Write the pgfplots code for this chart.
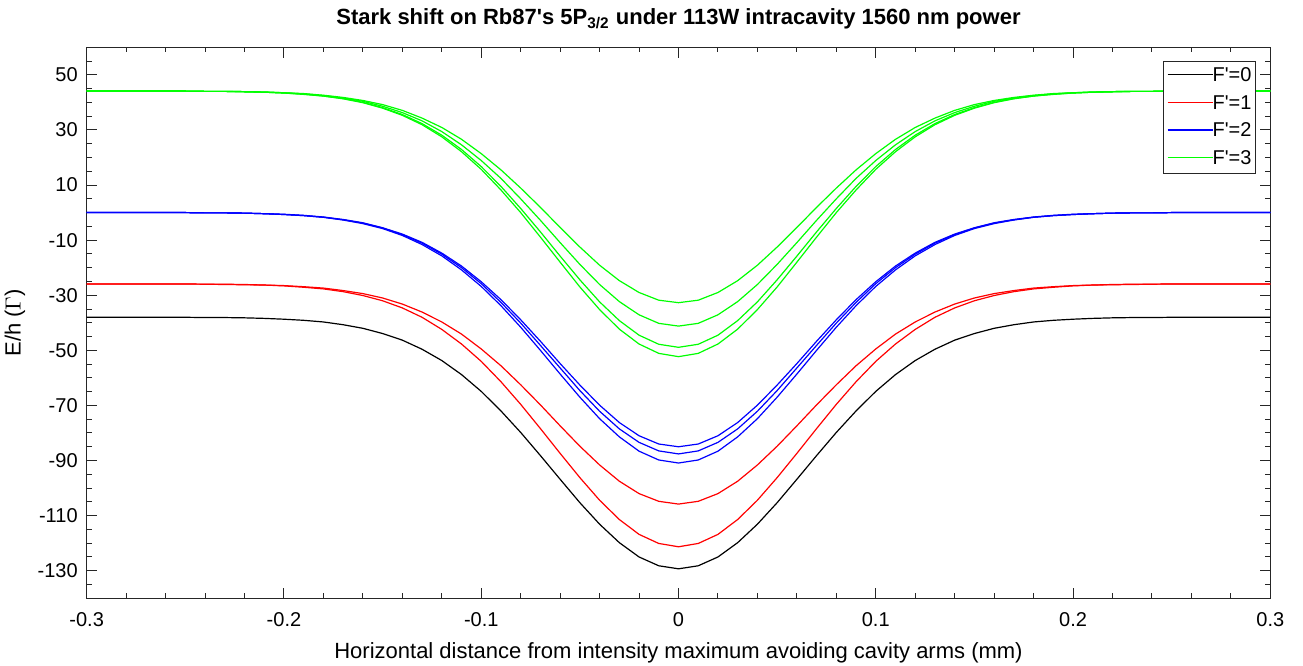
\documentclass[border=0pt]{standalone}
\usepackage{fontspec}
\setmainfont{Liberation Sans}
\usepackage{pgfplots}
\usepackage{pgfplotstable}
\pgfplotsset{compat=1.18}
\definecolor{mk}{RGB}{0,0,0}
\definecolor{mr}{RGB}{255,0,0}
\definecolor{mb}{RGB}{0,0,255}
\definecolor{mg}{RGB}{0,255,0}
\definecolor{axgray}{RGB}{38,38,38}
\newcommand{\ap}{\textquotesingle}
\newcommand{\legline}[1]{\node[anchor=west, inner sep=0pt] at (0pt,0pt) {\textcolor{#1}{\rule[-0.3pt]{22.5pt}{0.6pt}}\hspace{2.15pt}};}

\pgfplotstableread{
x      k      r1     r2     b1    b2    b3    g1    g2    g3    g4
-0.30  -38.0  -25.9  -25.9  0.0   0.0   0.0   44.1  44.1  44.1  44.1
-0.25  -38.0  -25.9  -25.9  0.0   0.0   0.0   44.1  44.1  44.1  44.1
-0.24  -38.1  -26.0  -26.0  -0.1  -0.1  -0.1  44.0  44.0  44.0  44.0
-0.23  -38.1  -26.0  -26.1  -0.1  -0.1  -0.1  44.0  44.0  44.0  44.0
-0.22  -38.2  -26.1  -26.2  -0.2  -0.2  -0.2  43.9  43.9  43.9  43.8
-0.21  -38.4  -26.3  -26.3  -0.4  -0.4  -0.4  43.8  43.7  43.7  43.7
-0.20  -38.7  -26.5  -26.6  -0.6  -0.7  -0.7  43.5  43.5  43.4  43.4
-0.19  -39.1  -26.9  -27.1  -1.0  -1.1  -1.1  43.2  43.1  43.0  42.9
-0.18  -39.7  -27.4  -27.7  -1.6  -1.7  -1.7  42.6  42.5  42.3  42.3
-0.17  -40.7  -28.3  -28.7  -2.5  -2.6  -2.7  41.8  41.6  41.4  41.3
-0.16  -42.0  -29.4  -30.1  -3.7  -3.8  -4.0  40.7  40.4  40.0  39.9
-0.15  -43.9  -31.0  -32.0  -5.5  -5.6  -5.8  39.2  38.6  38.1  37.9
-0.14  -46.3  -33.2  -34.6  -7.8  -8.0  -8.3  37.1  36.3  35.6  35.3
-0.13  -49.6  -36.1  -38.0  -10.8 -11.1 -11.6 34.3  33.3  32.3  31.9
-0.12  -53.7  -39.7  -42.4  -14.7 -15.1 -15.7 30.9  29.4  28.1  27.5
-0.11  -58.8  -44.1  -47.7  -19.4 -20.0 -20.8 26.6  24.6  22.9  22.1
-0.10  -64.9  -49.5  -54.0  -25.1 -25.8 -26.8 21.4  18.9  16.7  15.7
-0.09  -72.0  -55.6  -61.4  -31.6 -32.6 -33.8 15.5  12.4  9.5   8.2
-0.08  -79.8  -62.5  -69.6  -38.9 -40.1 -41.6 8.9   5.0   1.5   0.0
-0.07  -88.2  -69.8  -78.4  -46.7 -48.2 -50.0 1.9   -2.8  -7.0  -8.9
-0.06  -96.8  -77.4  -87.4  -54.8 -56.4 -58.6 -5.4  -10.9 -15.8 -18.0
-0.05  -105.3 -84.8  -96.2  -62.6 -64.6 -67.0 -12.5 -18.8 -24.4 -27.0
-0.04  -113.1 -91.6  -104.4 -69.9 -72.1 -74.8 -19.1 -26.1 -32.4 -35.2
-0.03  -119.8 -97.5  -111.4 -76.2 -78.5 -81.4 -24.7 -32.3 -39.2 -42.3
-0.02  -125.0 -102.0 -116.8 -81.0 -83.4 -86.6 -29.0 -37.1 -44.5 -47.7
-0.01  -128.2 -104.8 -120.1 -84.0 -86.5 -89.8 -31.8 -40.2 -47.8 -51.1
0.00   -129.3 -105.8 -121.3 -85.0 -87.6 -90.9 -32.7 -41.2 -48.9 -52.3
0.01   -128.2 -104.8 -120.1 -84.0 -86.5 -89.8 -31.8 -40.2 -47.8 -51.1
0.02   -125.0 -102.0 -116.8 -81.0 -83.4 -86.6 -29.0 -37.1 -44.5 -47.7
0.03   -119.8 -97.5  -111.4 -76.2 -78.5 -81.4 -24.7 -32.3 -39.2 -42.3
0.04   -113.1 -91.6  -104.4 -69.9 -72.1 -74.8 -19.1 -26.1 -32.4 -35.2
0.05   -105.3 -84.8  -96.2  -62.6 -64.6 -67.0 -12.5 -18.8 -24.4 -27.0
0.06   -96.8  -77.4  -87.4  -54.8 -56.4 -58.6 -5.4  -10.9 -15.8 -18.0
0.07   -88.2  -69.8  -78.4  -46.7 -48.2 -50.0 1.9   -2.8  -7.0  -8.9
0.08   -79.8  -62.5  -69.6  -38.9 -40.1 -41.6 8.9   5.0   1.5   0.0
0.09   -72.0  -55.6  -61.4  -31.6 -32.6 -33.8 15.5  12.4  9.5   8.2
0.10   -64.9  -49.5  -54.0  -25.1 -25.8 -26.8 21.4  18.9  16.7  15.7
0.11   -58.8  -44.1  -47.7  -19.4 -20.0 -20.8 26.6  24.6  22.9  22.1
0.12   -53.7  -39.7  -42.4  -14.7 -15.1 -15.7 30.9  29.4  28.1  27.5
0.13   -49.6  -36.1  -38.0  -10.8 -11.1 -11.6 34.3  33.3  32.3  31.9
0.14   -46.3  -33.2  -34.6  -7.8  -8.0  -8.3  37.1  36.3  35.6  35.3
0.15   -43.9  -31.0  -32.0  -5.5  -5.6  -5.8  39.2  38.6  38.1  37.9
0.16   -42.0  -29.4  -30.1  -3.7  -3.8  -4.0  40.7  40.4  40.0  39.9
0.17   -40.7  -28.3  -28.7  -2.5  -2.6  -2.7  41.8  41.6  41.4  41.3
0.18   -39.7  -27.4  -27.7  -1.6  -1.7  -1.7  42.6  42.5  42.3  42.3
0.19   -39.1  -26.9  -27.1  -1.0  -1.1  -1.1  43.2  43.1  43.0  42.9
0.20   -38.7  -26.5  -26.6  -0.6  -0.7  -0.7  43.5  43.5  43.4  43.4
0.21   -38.4  -26.3  -26.3  -0.4  -0.4  -0.4  43.8  43.7  43.7  43.7
0.22   -38.2  -26.1  -26.2  -0.2  -0.2  -0.2  43.9  43.9  43.9  43.8
0.23   -38.1  -26.0  -26.1  -0.1  -0.1  -0.1  44.0  44.0  44.0  44.0
0.24   -38.1  -26.0  -26.0  -0.1  -0.1  -0.1  44.0  44.0  44.0  44.0
0.25   -38.0  -25.9  -25.9  0.0   0.0   0.0   44.1  44.1  44.1  44.1
0.30   -38.0  -25.9  -25.9  0.0   0.0   0.0   44.1  44.1  44.1  44.1
}\stark

\begin{document}
\begin{tikzpicture}
\begin{axis}[
  name=ax,
  scale only axis,
  width=591.8pt, height=275.5pt,
  xmin=-0.3, xmax=0.3, ymin=-140, ymax=60,
  xtick={-0.3,-0.2,-0.1,0,0.1,0.2,0.3},
  xticklabels={-0.3,-0.2,-0.1,0,0.1,0.2,0.3},
  ytick={-130,-110,-90,-70,-50,-30,-10,10,30,50},
  yticklabels={-130,-110,-90,-70,-50,-30,-10,10,30,50},
  minor xtick={-0.28,-0.26,-0.24,-0.22,-0.18,-0.16,-0.14,-0.12,-0.08,-0.06,-0.04,-0.02,0.02,0.04,0.06,0.08,0.12,0.14,0.16,0.18,0.22,0.24,0.26,0.28},
  minor ytick={-135,-125,-120,-115,-105,-100,-95,-85,-80,-75,-65,-60,-55,-45,-40,-35,-25,-20,-15,-5,0,5,15,20,25,35,40,45,55},
  tick align=inside,
  major tick length=5.35pt,
  minor tick length=2.6pt,
  every tick/.style={axgray, line width=0.5pt},
  axis line style={axgray, line width=0.5pt},
  tick label style={font=\fontsize{10}{12}\selectfont},
  xticklabel style={anchor=base, yshift=-14.35pt, inner sep=0pt},
  yticklabel style={anchor=east, xshift=-1pt},
  every axis title shift=0pt,
  title={Stark shift on Rb87\ap s 5P\textsubscript{3/2} under 113W intracavity 1560 nm power},
  title style={at={(0.5,1)}, anchor=base, yshift=11.2pt, inner sep=0pt, font=\fontsize{11}{13}\selectfont\bfseries},
  xlabel={Horizontal distance from intensity maximum avoiding cavity arms (mm)},
  xlabel style={at={(0.5,0)}, anchor=base, yshift=-30.35pt, inner sep=0pt, font=\fontsize{11}{13}\selectfont},
  ylabel={E/h ($\Gamma$)},
  ylabel style={at={(-0.06058,0.5)}, anchor=center, inner sep=0pt, font=\fontsize{11}{13}\selectfont},
  legend style={at={(1,1)}, anchor=north east, xshift=-7.3pt, yshift=-6.7pt,
    draw=axgray, line width=0.5pt, font=\fontsize{10}{12}\selectfont,
    inner xsep=1.85pt, inner ysep=3.2pt, row sep=5.35pt,
    nodes={inner sep=0pt}, cells={anchor=west}},
  every axis plot/.append style={line width=0.6pt},
]
\addlegendimage{legend image code/.code={\legline{mk}}}
\addlegendentry{F\ap=0}
\addlegendimage{legend image code/.code={\legline{mr}}}
\addlegendentry{F\ap=1}
\addlegendimage{legend image code/.code={\legline{mb}}}
\addlegendentry{F\ap=2}
\addlegendimage{legend image code/.code={\legline{mg}}}
\addlegendentry{F\ap=3}
\addplot[mk, forget plot] table[x=x, y=k] {\stark};
\addplot[mr, forget plot] table[x=x, y=r1] {\stark};
\addplot[mr, forget plot] table[x=x, y=r2] {\stark};
\addplot[mb, forget plot] table[x=x, y=b1] {\stark};
\addplot[mb, forget plot] table[x=x, y=b2] {\stark};
\addplot[mb, forget plot] table[x=x, y=b3] {\stark};
\addplot[mg, forget plot] table[x=x, y=g1] {\stark};
\addplot[mg, forget plot] table[x=x, y=g2] {\stark};
\addplot[mg, forget plot] table[x=x, y=g3] {\stark};
\addplot[mg, forget plot] table[x=x, y=g4] {\stark};
\end{axis}
\path ([shift={(-43.35pt,-33.85pt)}]ax.south west) rectangle ([shift={(16.35pt,23.65pt)}]ax.north east);
\end{tikzpicture}
\end{document}
